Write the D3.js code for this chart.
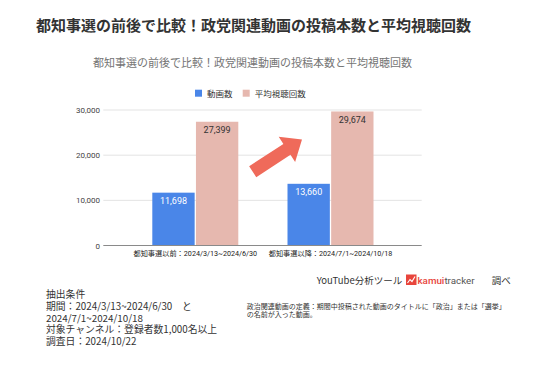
<!DOCTYPE html>
<html>
<head>
<meta charset="utf-8">
<script src="https://cdn.jsdelivr.net/npm/d3@7"></script>
<style>
  html, body { margin: 0; padding: 0; background: #fff; }
  svg { display: block; }
</style>
</head>
<body>
<svg id="chart" width="536" height="377"></svg>
<script>
// ---- data ----
const categories = ["都知事選以前：2024/3/13~2024/6/30", "都知事選以降：2024/7/1~2024/10/18"];
const seriesNames = ["動画数", "平均視聴回数"];
const videoCounts = [11698, 13660];
const avgViews = [27399, 29674];
const yTicks = [0, 10000, 20000, 30000];
const seriesColors = ["#4a86e8", "#e6b8af"];
const labelColors = ["#ffffff", "#333333"];

const JP = "'Noto Sans CJK JP', 'Noto Sans', sans-serif";
const RB = "Roboto, 'Noto Sans CJK JP', sans-serif";

const svg = d3.select("#chart");
svg.append("rect").attr("width", 536).attr("height", 377).attr("fill", "#fff");

// page title
svg.append("text").attr("x", 36).attr("y", 24).attr("dominant-baseline", "central")
  .attr("font-family", JP).attr("font-weight", 700).attr("font-size", 15).attr("fill", "#333")
  .text("都知事選の前後で比較！政党関連動画の投稿本数と平均視聴回数");

// chart title
svg.append("text").attr("x", 252.5).attr("y", 62.3).attr("text-anchor", "middle").attr("dominant-baseline", "central")
  .attr("font-family", JP).attr("font-size", 11).attr("fill", "#757575")
  .text("都知事選の前後で比較！政党関連動画の投稿本数と平均視聴回数");

// scales
const plotLeft = 103.3, plotRight = 421.7;
const y = d3.scaleLinear().domain([0, 30000]).range([245.5, 110]);
const x0 = d3.scaleBand().domain(categories).range([127.7, 398.1]);
const x1 = d3.scaleBand().domain(seriesNames).range([-43, 43]).paddingInner(0.03);

// gridlines
svg.append("g").selectAll("line").data(yTicks.filter(d => d > 0)).join("line")
  .attr("x1", plotLeft).attr("x2", plotRight)
  .attr("y1", d => y(d)).attr("y2", d => y(d))
  .attr("stroke", "#e3e3e3").attr("stroke-width", 1);

// y axis labels
const yAxis = d3.axisLeft(y).tickValues(yTicks).tickSize(0).tickPadding(0).tickFormat(d3.format(","));
const gy = svg.append("g").attr("transform", `translate(100,0)`).call(yAxis);
gy.select(".domain").remove();
gy.selectAll("text").attr("font-family", RB).attr("font-size", 8).attr("fill", "#444").attr("dy", "0.32em");

// bars
const seriesData = [videoCounts, avgViews];
const groups = svg.append("g").selectAll("g").data(categories).join("g")
  .attr("transform", d => `translate(${x0(d) + x0.bandwidth() / 2},0)`);

groups.each(function (cat, ci) {
  const g = d3.select(this);
  seriesNames.forEach((s, si) => {
    const v = seriesData[si][ci];
    g.append("rect")
      .attr("x", x1(s)).attr("width", x1.bandwidth())
      .attr("y", y(v)).attr("height", y(0) - y(v))
      .attr("fill", seriesColors[si]);
    g.append("text")
      .attr("x", x1(s) + x1.bandwidth() / 2).attr("y", y(v) + 8.4)
      .attr("text-anchor", "middle").attr("dominant-baseline", "central")
      .attr("font-family", RB).attr("font-size", 9).attr("fill", labelColors[si])
      .text(d3.format(",")(v));
  });
});

// baseline
svg.append("line").attr("x1", plotLeft).attr("x2", plotRight)
  .attr("y1", y(0)).attr("y2", y(0)).attr("stroke", "#8a8a8a").attr("stroke-width", 1);

// x axis labels
const xAxis = d3.axisBottom(x0).tickSize(0).tickPadding(0);
const gx = svg.append("g").attr("transform", `translate(0,253.3)`).call(xAxis);
gx.select(".domain").remove();
gx.selectAll("text").attr("font-family", RB).attr("font-size", 7.2).attr("fill", "#222")
  .attr("dy", "0.32em").attr("y", 0);

// legend
const legendX = [195, 242.7];
seriesNames.forEach((s, i) => {
  svg.append("rect").attr("x", legendX[i]).attr("y", 89.7).attr("width", 7).attr("height", 7).attr("fill", seriesColors[i]);
  svg.append("text").attr("x", legendX[i] + 12).attr("y", 93.2).attr("dominant-baseline", "central")
    .attr("font-family", JP).attr("font-size", 8.5).attr("fill", "#333").text(s);
});

// arrow annotation
(function () {
  const tail = [252.7, 171.7], tip = [302, 139.5];
  const dx = tip[0] - tail[0], dy = tip[1] - tail[1];
  const L = Math.hypot(dx, dy);
  const ang = Math.atan2(dy, dx) * 180 / Math.PI;
  const sw = 13, hw = 30, hl = 18;
  const pts = [[0, -sw / 2], [L - hl, -sw / 2], [L - hl, -hw / 2], [L, 0], [L - hl, hw / 2], [L - hl, sw / 2], [0, sw / 2]];
  svg.append("polygon")
    .attr("points", pts.map(p => p.join(",")).join(" "))
    .attr("transform", `translate(${tail[0]},${tail[1]}) rotate(${ang})`)
    .attr("fill", "#ef6a5a");
})();

// credit line
svg.append("text").attr("x", 316.7).attr("y", 279.5).attr("dominant-baseline", "central")
  .attr("font-family", JP).attr("font-size", 9.5).attr("fill", "#333").text("YouTube分析ツール");
svg.append("rect").attr("x", 406).attr("y", 274.5).attr("width", 10.5).attr("height", 10.5).attr("fill", "#e8453c");
svg.append("polyline").attr("points", "407.5,283 410,279.5 412,281.5 415,276.5")
  .attr("fill", "none").attr("stroke", "#fff").attr("stroke-width", 1.1);
const kt = svg.append("text").attr("x", 417.5).attr("y", 279.5).attr("dominant-baseline", "central")
  .attr("font-family", RB).attr("font-size", 9.8);
kt.append("tspan").attr("fill", "#e8453c").attr("font-weight", 500).text("kamui");
kt.append("tspan").attr("fill", "#555").text("tracker");
svg.append("text").attr("x", 491.7).attr("y", 279.5).attr("dominant-baseline", "central")
  .attr("font-family", JP).attr("font-size", 9.5).attr("fill", "#333").text("調べ");

// conditions block
const condLines = ["抽出条件", "期間：2024/3/13~2024/6/30　と", "2024/7/1~2024/10/18", "対象チャンネル：登録者数1,000名以上", "調査日：2024/10/22"];
svg.append("g").selectAll("text").data(condLines).join("text")
  .attr("x", 46).attr("y", (d, i) => 294 + i * 11.8).attr("dominant-baseline", "central")
  .attr("font-family", JP).attr("font-size", 9.8).attr("fill", "#333").text(d => d);

// definition note
const noteLines = ["政治関連動画の定義：期間中投稿された動画のタイトルに「政治」または「選挙」", "の名前が入った動画。"];
svg.append("g").selectAll("text").data(noteLines).join("text")
  .attr("x", 246.7).attr("y", (d, i) => 305.7 + i * 8.4).attr("dominant-baseline", "central")
  .attr("font-family", JP).attr("font-size", 7).attr("fill", "#333").text(d => d);
</script>
</body>
</html>
